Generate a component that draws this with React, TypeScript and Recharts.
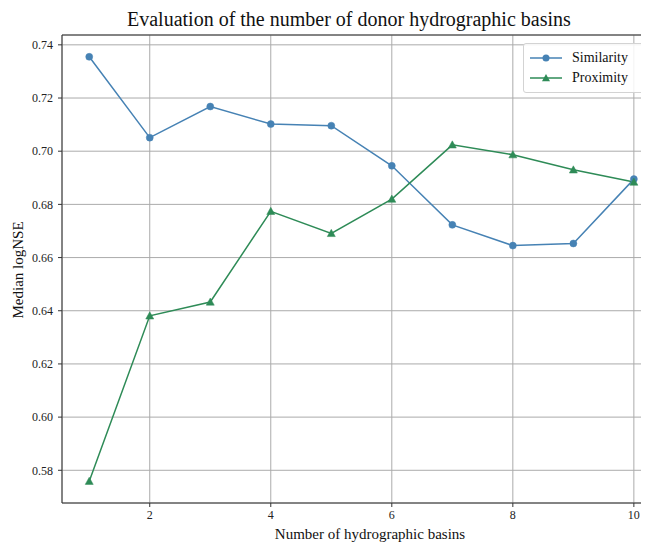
import React from "react";
import {
  LineChart,
  Line,
  XAxis,
  YAxis,
  CartesianGrid,
  ReferenceLine,
  Legend,
} from "recharts";

const basins = [1, 2, 3, 4, 5, 6, 7, 8, 9, 10];
const similarity = [0.7355, 0.7051, 0.7168, 0.7102, 0.7096, 0.6945, 0.6723, 0.6645, 0.6653, 0.6895];
const proximity = [0.5759, 0.6381, 0.6433, 0.6774, 0.6691, 0.682, 0.7024, 0.6987, 0.693, 0.6884];
const xTicks = [2, 4, 6, 8, 10];
const yTicks = [0.58, 0.6, 0.62, 0.64, 0.66, 0.68, 0.7, 0.72, 0.74];

const TITLE = "Evaluation of the number of donor hydrographic basins";
const X_LABEL = "Number of hydrographic basins";
const Y_LABEL = "Median logNSE";

const X_DOMAIN: [number, number] = [0.55, 10.25];
const Y_DOMAIN: [number, number] = [0.5677, 0.7437];

const FONT = "'Liberation Serif', 'Times New Roman', serif";
const BLUE = "#4682b4";
const GREEN = "#2e8b57";

const data = basins.map((b, i) => ({
  n: b,
  similarity: similarity[i],
  proximity: proximity[i],
}));

const series = [
  { key: "similarity", name: "Similarity", color: BLUE, marker: "circle" },
  { key: "proximity", name: "Proximity", color: GREEN, marker: "triangle" },
];

const Triangle = (props: any) => {
  const { cx, cy, fill } = props;
  if (cx == null || cy == null) return null;
  const s = 4;
  return (
    <polygon
      points={`${cx},${cy - s} ${cx - s},${cy + s * 0.8} ${cx + s},${cy + s * 0.8}`}
      fill={fill}
      stroke={fill}
      strokeWidth={0.5}
    />
  );
};

const Marker = ({ type, color }: { type: string; color: string }) => (
  <svg width={34} height={12} style={{ display: "block" }}>
    <line x1={1} y1={6} x2={33} y2={6} stroke={color} strokeWidth={1.5} />
    {type === "circle" ? (
      <circle cx={17} cy={6} r={3.5} fill={color} />
    ) : (
      <polygon points="17,2 13,9.2 21,9.2" fill={color} />
    )}
  </svg>
);

const LegendBox = () => (
  <div
    style={{
      border: "1px solid #d3d3d3",
      borderRadius: 3,
      background: "rgba(255,255,255,0.85)",
      padding: "4px 8px 4px 5px",
      fontFamily: FONT,
      fontSize: 14,
      color: "#111",
      boxSizing: "border-box",
    }}
  >
    {series.map((s) => (
      <div
        key={s.key}
        style={{ display: "flex", alignItems: "center", height: 20, lineHeight: "20px" }}
      >
        <Marker type={s.marker} color={s.color} />
        <span style={{ marginLeft: 9, whiteSpace: "nowrap" }}>{s.name}</span>
      </div>
    ))}
  </div>
);

export default function App() {
  return (
    <div style={{ position: "relative", width: 641, height: 536 }}>
      <div
        style={{
          position: "absolute",
          left: 119,
          top: 1,
          fontFamily: FONT,
          fontSize: 20,
          lineHeight: "20px",
          whiteSpace: "nowrap",
          color: "#111",
        }}
      >
        {TITLE}
      </div>
      <LineChart
        width={641}
        height={536}
        data={data}
        margin={{ top: 27, right: 0, bottom: 0, left: 0 }}
      >
        <CartesianGrid stroke="#ababab" strokeWidth={1} />
        <XAxis
          dataKey="n"
          type="number"
          domain={X_DOMAIN}
          allowDataOverflow
          ticks={xTicks}
          height={41}
          tickSize={4}
          tickMargin={3}
          stroke="#333"
          tick={{ fill: "#222", fontSize: 12, fontFamily: FONT }}
          label={{
            content: () => (
              <text
                x={362}
                y={531}
                textAnchor="middle"
                fontFamily={FONT}
                fontSize={15}
                fill="#111"
              >
                {X_LABEL}
              </text>
            ),
          }}
        />
        <YAxis
          type="number"
          domain={Y_DOMAIN}
          allowDataOverflow
          ticks={yTicks}
          width={54}
          tickSize={4}
          tickMargin={5}
          stroke="#333"
          tickFormatter={(v: number) => v.toFixed(2)}
          tick={{ fill: "#222", fontSize: 12, fontFamily: FONT }}
          label={{
            content: () => (
              <text
                x={15}
                y={262}
                transform="rotate(-90, 15, 262)"
                textAnchor="middle"
                fontFamily={FONT}
                fontSize={15}
                fill="#111"
              >
                {Y_LABEL}
              </text>
            ),
          }}
        />
        <ReferenceLine y={Y_DOMAIN[1]} stroke="#333" strokeWidth={1} />
        <Legend
          layout="vertical"
          align="center"
          verticalAlign="middle"
          content={() => <LegendBox />}
          wrapperStyle={{ top: 35, left: 515, width: 126, height: 50 }}
        />
        <Line
          type="linear"
          dataKey="similarity"
          name="Similarity"
          stroke={BLUE}
          strokeWidth={1.5}
          dot={{ r: 3.5, fill: BLUE, stroke: BLUE, strokeWidth: 0.5 }}
          activeDot={false}
          isAnimationActive={false}
        />
        <Line
          type="linear"
          dataKey="proximity"
          name="Proximity"
          stroke={GREEN}
          strokeWidth={1.5}
          dot={<Triangle fill={GREEN} />}
          activeDot={false}
          isAnimationActive={false}
        />
      </LineChart>
    </div>
  );
}
